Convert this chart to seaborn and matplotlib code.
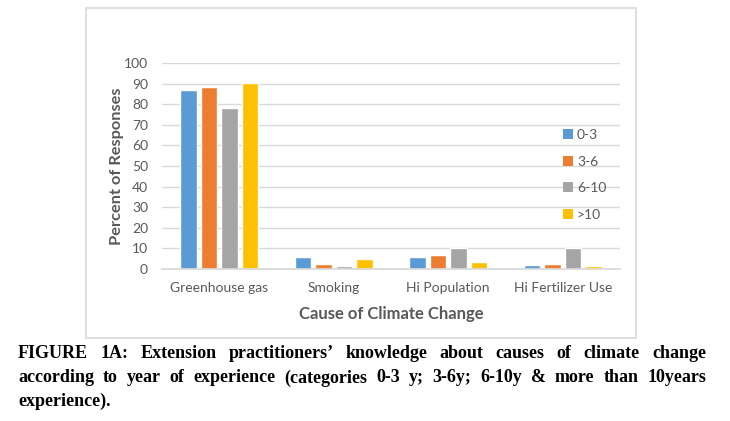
import matplotlib
matplotlib.use("Agg")
import matplotlib.pyplot as plt
import seaborn as sns
import pandas as pd
from matplotlib.patches import Rectangle, Patch

categories = ["Greenhouse gas", "Smoking", "Hi Population", "Hi Fertilizer Use"]
groups = ["0-3", "3-6", "6-10", ">10"]
vals_0_3 = [87, 5.7, 5.7, 2.0]
vals_3_6 = [88.5, 2.3, 7.0, 2.3]
vals_6_10 = [78, 1.6, 10.3, 10.3]
vals_gt10 = [90.5, 4.8, 3.4, 1.3]
yticks = [0, 10, 20, 30, 40, 50, 60, 70, 80, 90, 100]
colors = ["#5B9BD5", "#ED7D31", "#A5A5A5", "#FFC000"]

caption_lines = [
    "FIGURE 1A: Extension practitioners\u2019 knowledge about causes of climate change",
    "according to year of experience (categories 0-3 y; 3-6y; 6-10y & more than 10years",
    "experience).",
]

rows = []
for g, vals in zip(groups, [vals_0_3, vals_3_6, vals_6_10, vals_gt10]):
    for c, v in zip(categories, vals):
        rows.append({"cause": c, "group": g, "value": v})
df = pd.DataFrame(rows)

sns.set_theme(style="white")
plt.rcParams["font.family"] = ["Lato", "DejaVu Sans"]

W, H = 730, 421
fig = plt.figure(figsize=(W / 100, H / 100), dpi=100)
fig.patch.set_facecolor("white")

# chart border
fig.add_artist(Rectangle((86 / W, 1 - 338 / H), (636 - 86) / W, (338 - 8) / H,
                         transform=fig.transFigure, fill=False,
                         edgecolor="#D9D9D9", linewidth=1.2))

ax_l, ax_r, ax_t, ax_b = 162, 620, 63, 269
ax = fig.add_axes([ax_l / W, 1 - ax_b / H, (ax_r - ax_l) / W, (ax_b - ax_t) / H])
sns.barplot(data=df, x="cause", y="value", hue="group", order=categories,
            hue_order=groups, palette=colors, width=0.72, gap=0.2,
            saturation=1, ax=ax, legend=False)

ax.set_ylim(0, 100)
ax.set_xlim(-0.5, 3.5)
ax.set_yticks(yticks)
ax.yaxis.grid(True, color="#D9D9D9", linewidth=1)
ax.set_axisbelow(True)
for s in ["top", "right", "left"]:
    ax.spines[s].set_visible(False)
ax.spines["bottom"].set_color("#D9D9D9")
ax.tick_params(axis="both", length=0, labelcolor="#595959")
ax.tick_params(axis="x", pad=9, labelsize=10)
ax.tick_params(axis="y", pad=10, labelsize=10)
ax.set_xlabel("Cause of Climate Change", fontsize=12, fontweight="bold",
              color="#595959", labelpad=9)
ax.set_ylabel("Percent of Responses", fontsize=11.8, fontweight="bold",
              color="#595959", labelpad=0)

handles = [Patch(facecolor=c, edgecolor="none") for c in colors]
ax.legend(handles, groups, loc="upper left",
          bbox_to_anchor=((563 - ax_l) / (ax_r - ax_l), (ax_b - 129) / (ax_b - ax_t)),
          frameon=False, fontsize=10, labelcolor="#595959", handlelength=0.7,
          handleheight=0.7, handletextpad=0.3, labelspacing=1.05, borderaxespad=0,
          borderpad=0)

# justified caption
fig.canvas.draw()
renderer = fig.canvas.get_renderer()
left_px, right_px = 18, 706
ys = [354, 378, 401]
cap_font = dict(family=["Liberation Serif", "DejaVu Serif"], fontsize=13,
                fontweight="bold", color="black")
for i, (line, ypx) in enumerate(zip(caption_lines, ys)):
    words = line.split(" ")
    if i == len(caption_lines) - 1:
        fig.text(left_px / W, 1 - ypx / H, line, ha="left", va="center", **cap_font)
        continue
    texts = [fig.text(0, 1 - ypx / H, w, ha="left", va="center", **cap_font) for w in words]
    widths = [t.get_window_extent(renderer).width for t in texts]
    space = (right_px - left_px - sum(widths)) / (len(words) - 1)
    x = left_px
    for t, wdt in zip(texts, widths):
        t.set_x(x / W)
        x += wdt + space

fig.savefig("out.png", dpi=100, facecolor="white")
